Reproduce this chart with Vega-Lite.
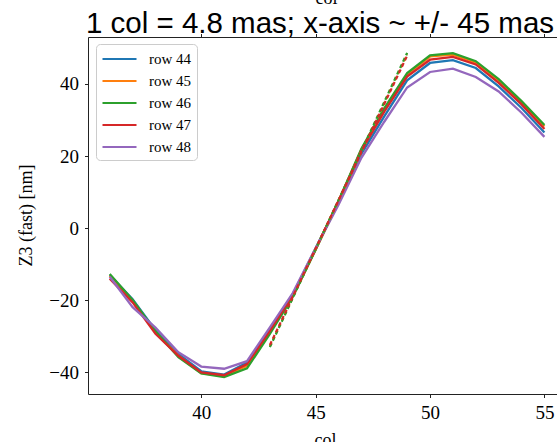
{
  "$schema": "https://vega.github.io/schema/vega-lite/v6.json",
  "width": 469,
  "height": 357,
  "autosize": {"type": "none"},
  "padding": {"left": 88, "top": 37, "right": 0, "bottom": 48},
  "background": "white",
  "title": {
    "text": "col",
    "font": "Liberation Serif",
    "fontSize": 18,
    "fontWeight": "normal",
    "color": "black",
    "anchor": "middle",
    "baseline": "alphabetic",
    "offset": -7,
    "dy": 7,
    "dx": 4
  },
  "datasets": {
    "rows": [
      {"col": 36, "value": -13.0, "row": "row 44"}, {"col": 37, "value": -19.7, "row": "row 44"}, {"col": 38, "value": -28.3, "row": "row 44"}, {"col": 39, "value": -34.9, "row": "row 44"}, {"col": 40, "value": -39.7, "row": "row 44"}, {"col": 41, "value": -40.6, "row": "row 44"}, {"col": 42, "value": -37.3, "row": "row 44"}, {"col": 43, "value": -28.3, "row": "row 44"}, {"col": 44, "value": -18.4, "row": "row 44"}, {"col": 45, "value": -5.6, "row": "row 44"}, {"col": 46, "value": 7.0, "row": "row 44"}, {"col": 47, "value": 20.6, "row": "row 44"}, {"col": 48, "value": 31.0, "row": "row 44"}, {"col": 49, "value": 41.0, "row": "row 44"}, {"col": 50, "value": 45.8, "row": "row 44"}, {"col": 51, "value": 46.6, "row": "row 44"}, {"col": 52, "value": 44.4, "row": "row 44"}, {"col": 53, "value": 39.3, "row": "row 44"}, {"col": 54, "value": 33.3, "row": "row 44"}, {"col": 55, "value": 26.5, "row": "row 44"},
      {"col": 36, "value": -13.2, "row": "row 45"}, {"col": 37, "value": -20.2, "row": "row 45"}, {"col": 38, "value": -28.9, "row": "row 45"}, {"col": 39, "value": -35.4, "row": "row 45"}, {"col": 40, "value": -40.2, "row": "row 45"}, {"col": 41, "value": -41.0, "row": "row 45"}, {"col": 42, "value": -38.2, "row": "row 45"}, {"col": 43, "value": -28.8, "row": "row 45"}, {"col": 44, "value": -18.8, "row": "row 45"}, {"col": 45, "value": -5.9, "row": "row 45"}, {"col": 46, "value": 7.4, "row": "row 45"}, {"col": 47, "value": 21.8, "row": "row 45"}, {"col": 48, "value": 33.0, "row": "row 45"}, {"col": 49, "value": 42.6, "row": "row 45"}, {"col": 50, "value": 47.6, "row": "row 45"}, {"col": 51, "value": 48.1, "row": "row 45"}, {"col": 52, "value": 45.8, "row": "row 45"}, {"col": 53, "value": 40.8, "row": "row 45"}, {"col": 54, "value": 34.8, "row": "row 45"}, {"col": 55, "value": 28.2, "row": "row 45"},
      {"col": 36, "value": -12.7, "row": "row 46"}, {"col": 37, "value": -19.9, "row": "row 46"}, {"col": 38, "value": -28.6, "row": "row 46"}, {"col": 39, "value": -35.8, "row": "row 46"}, {"col": 40, "value": -40.3, "row": "row 46"}, {"col": 41, "value": -41.3, "row": "row 46"}, {"col": 42, "value": -38.9, "row": "row 46"}, {"col": 43, "value": -29.3, "row": "row 46"}, {"col": 44, "value": -19.0, "row": "row 46"}, {"col": 45, "value": -6.0, "row": "row 46"}, {"col": 46, "value": 7.5, "row": "row 46"}, {"col": 47, "value": 22.0, "row": "row 46"}, {"col": 48, "value": 33.2, "row": "row 46"}, {"col": 49, "value": 43.0, "row": "row 46"}, {"col": 50, "value": 47.9, "row": "row 46"}, {"col": 51, "value": 48.5, "row": "row 46"}, {"col": 52, "value": 46.3, "row": "row 46"}, {"col": 53, "value": 41.3, "row": "row 46"}, {"col": 54, "value": 35.2, "row": "row 46"}, {"col": 55, "value": 28.6, "row": "row 46"},
      {"col": 36, "value": -14.0, "row": "row 47"}, {"col": 37, "value": -20.6, "row": "row 47"}, {"col": 38, "value": -29.3, "row": "row 47"}, {"col": 39, "value": -35.4, "row": "row 47"}, {"col": 40, "value": -40.0, "row": "row 47"}, {"col": 41, "value": -40.8, "row": "row 47"}, {"col": 42, "value": -37.7, "row": "row 47"}, {"col": 43, "value": -28.5, "row": "row 47"}, {"col": 44, "value": -18.5, "row": "row 47"}, {"col": 45, "value": -5.8, "row": "row 47"}, {"col": 46, "value": 7.3, "row": "row 47"}, {"col": 47, "value": 21.5, "row": "row 47"}, {"col": 48, "value": 32.3, "row": "row 47"}, {"col": 49, "value": 42.0, "row": "row 47"}, {"col": 50, "value": 46.7, "row": "row 47"}, {"col": 51, "value": 47.5, "row": "row 47"}, {"col": 52, "value": 45.4, "row": "row 47"}, {"col": 53, "value": 40.3, "row": "row 47"}, {"col": 54, "value": 34.3, "row": "row 47"}, {"col": 55, "value": 27.5, "row": "row 47"},
      {"col": 36, "value": -13.5, "row": "row 48"}, {"col": 37, "value": -21.9, "row": "row 48"}, {"col": 38, "value": -27.6, "row": "row 48"}, {"col": 39, "value": -34.4, "row": "row 48"}, {"col": 40, "value": -38.4, "row": "row 48"}, {"col": 41, "value": -39.0, "row": "row 48"}, {"col": 42, "value": -36.9, "row": "row 48"}, {"col": 43, "value": -27.5, "row": "row 48"}, {"col": 44, "value": -18.0, "row": "row 48"}, {"col": 45, "value": -5.5, "row": "row 48"}, {"col": 46, "value": 6.5, "row": "row 48"}, {"col": 47, "value": 19.5, "row": "row 48"}, {"col": 48, "value": 29.5, "row": "row 48"}, {"col": 49, "value": 39.0, "row": "row 48"}, {"col": 50, "value": 43.3, "row": "row 48"}, {"col": 51, "value": 44.2, "row": "row 48"}, {"col": 52, "value": 41.9, "row": "row 48"}, {"col": 53, "value": 37.9, "row": "row 48"}, {"col": 54, "value": 32.0, "row": "row 48"}, {"col": 55, "value": 25.3, "row": "row 48"}
    ],
    "fits": [
      {"col": 43, "value": -32.8, "row": "row 45"}, {"col": 49, "value": 48.2, "row": "row 45"},
      {"col": 43, "value": -33.0, "row": "row 46"}, {"col": 49, "value": 48.6, "row": "row 46"},
      {"col": 43, "value": -32.4, "row": "row 47"}, {"col": 49, "value": 47.8, "row": "row 47"}
    ]
  },
  "layer": [
    {
      "data": {"name": "rows"},
      "mark": {"type": "line", "strokeWidth": 2.3, "clip": true},
      "encoding": {
        "x": {
          "field": "col", "type": "quantitative",
          "scale": {"domain": [35.05, 55.55], "nice": false, "zero": false},
          "axis": {
            "orient": "bottom", "title": "col", "values": [40, 45, 50, 55],
            "titleX": 237, "titleY": 51, "titleBaseline": "alphabetic", "titleAlign": "center"
          }
        },
        "y": {
          "field": "value", "type": "quantitative",
          "scale": {"domain": [-46, 53], "nice": false, "zero": false},
          "axis": {
            "title": "Z3 (fast) [nm]", "values": [-40, -20, 0, 20, 40],
            "titleX": -57, "titleY": 178, "titleBaseline": "alphabetic", "titleAlign": "center", "titleAngle": -90
          }
        },
        "color": {
          "field": "row", "type": "nominal",
          "scale": {"domain": ["row 44", "row 45", "row 46", "row 47", "row 48"], "range": ["#1f77b4", "#ff7f0e", "#2ca02c", "#d62728", "#9467bd"]},
          "legend": {"title": null}
        }
      }
    },
    {
      "data": {"name": "fits"},
      "mark": {"type": "line", "strokeWidth": 2.2, "strokeDash": [4, 3], "clip": true},
      "encoding": {
        "x": {
          "field": "col", "type": "quantitative",
          "axis": {
            "orient": "top", "labels": false, "values": [40, 45, 50, 55],
            "title": "1 col = 4.8 mas; x-axis ~ +/- 45 mas",
            "titleFont": "Liberation Sans", "titleFontSize": 29.5, "titleColor": "black", "titleFontWeight": "normal",
            "titleX": 231.5, "titleY": -5, "titleBaseline": "alphabetic", "titleAlign": "center"
          }
        },
        "y": {"field": "value", "type": "quantitative"},
        "color": {"field": "row", "type": "nominal", "legend": null}
      }
    }
  ],
  "resolve": {"axis": {"x": "independent"}},
  "config": {
    "view": {"stroke": null},
    "axis": {
      "grid": false,
      "domainColor": "#222222", "domainWidth": 1,
      "tickColor": "#222222", "tickWidth": 1, "tickSize": 3.5,
      "labelFont": "Liberation Serif", "labelFontSize": 19, "labelColor": "black", "labelPadding": 6,
      "titleFont": "Liberation Serif", "titleFontSize": 18, "titleFontWeight": "normal", "titleColor": "black"
    },
    "legend": {
      "orient": "none", "legendX": 8, "legendY": 7,
      "symbolType": "M-1,0H3", "symbolSize": 289, "symbolStrokeWidth": 2.2,
      "labelFont": "Liberation Serif", "labelFontSize": 15, "labelColor": "black", "labelOffset": 28,
      "padding": 5, "rowPadding": 4,
      "strokeColor": "#cccccc", "fillColor": "rgba(255,255,255,0.8)", "cornerRadius": 4
    }
  }
}
